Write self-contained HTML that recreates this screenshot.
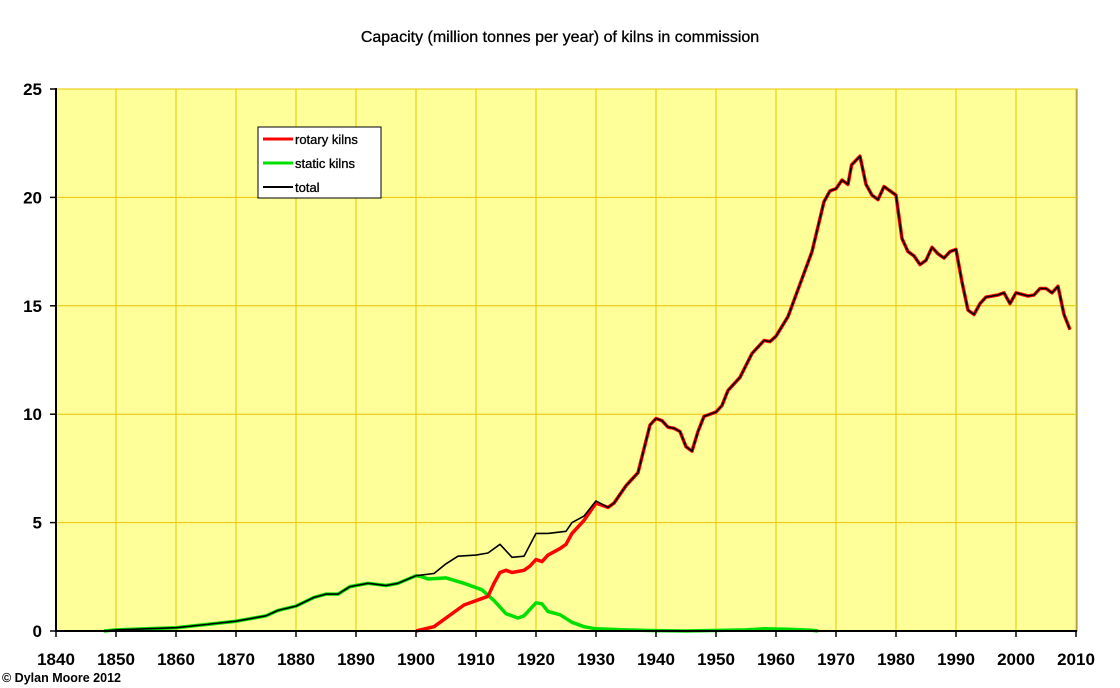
<!DOCTYPE html>
<html><head><meta charset="utf-8"><style>
html,body{margin:0;padding:0;background:#fff;}
svg{display:block;font-family:"Liberation Sans",Arial,sans-serif;}
</style></head><body>
<svg id="c" width="1120" height="688" viewBox="0 0 1120 688" xmlns="http://www.w3.org/2000/svg">
<text x="560" y="42" text-anchor="middle" font-size="16" fill="#000" stroke="#000" stroke-width="0.3">Capacity (million tonnes per year) of kilns in commission</text>
<rect x="56" y="89" width="1021" height="542" fill="#ffff99" stroke="#808080" stroke-width="1"/>
<g id="grid"></g>
<g id="series"></g>
<line x1="56" y1="88" x2="56" y2="632" stroke="#000" stroke-width="2"/>
<line x1="55" y1="631" x2="1077" y2="631" stroke="#000" stroke-width="2"/>
<g id="labels" font-size="17" font-weight="bold" fill="#000"></g>
<rect x="258" y="127" width="123" height="71" fill="#fff" stroke="#000" stroke-width="1"/>
<line x1="263" y1="139" x2="293" y2="139" stroke="#ff0000" stroke-width="3"/>
<text x="295" y="144" font-size="13" stroke="#000" stroke-width="0.3">rotary kilns</text>
<line x1="263" y1="163" x2="293" y2="163" stroke="#00e000" stroke-width="3"/>
<text x="295" y="168" font-size="13" stroke="#000" stroke-width="0.3">static kilns</text>
<line x1="263" y1="187" x2="293" y2="187" stroke="#000" stroke-width="2"/>
<text x="295" y="192" font-size="13" stroke="#000" stroke-width="0.3">total</text>
<text x="2" y="682" font-size="12.5" font-weight="bold">© Dylan Moore 2012</text>
</svg>
<script>
var NS="http://www.w3.org/2000/svg";
function X(y){return 56+(y-1840)*6.0;}
function Y(v){return 631-v*21.68;}
var g=document.getElementById('grid'),L=document.getElementById('labels'),S=document.getElementById('series');
function el(p,t,a){var e=document.createElementNS(NS,t);for(var k in a)e.setAttribute(k,a[k]);p.appendChild(e);return e;}
for(var yr=1850;yr<=2010;yr+=10)el(g,'line',{x1:X(yr),y1:89,x2:X(yr),y2:631,stroke:'#e8c400','stroke-width':1});
for(var v=5;v<=25;v+=5)el(g,'line',{x1:56,y1:Y(v),x2:1077,y2:Y(v),stroke:'#e8c400','stroke-width':1});
for(var yr=1840;yr<=2010;yr+=10){el(L,'line',{x1:X(yr),y1:631,x2:X(yr),y2:637,stroke:'#000','stroke-width':1.5});var t=el(L,'text',{x:X(yr),y:665,'text-anchor':'middle'});t.textContent=yr;}
for(var v=0;v<=25;v+=5){el(L,'line',{x1:50,y1:Y(v),x2:56,y2:Y(v),stroke:'#000','stroke-width':1.5});var t=el(L,'text',{x:42,y:Y(v)+6,'text-anchor':'end'});t.textContent=v;}
var early=[[1848,0],[1850,0.05],[1855,0.1],[1860,0.15],[1865,0.3],[1870,0.45],[1873,0.6],[1875,0.7],[1877,0.95],[1880,1.15],[1883,1.55],[1885,1.7],[1887,1.7],[1889,2.05],[1892,2.2],[1895,2.1],[1897,2.2],[1900,2.55]];
var total=early.concat([[1903,2.65],[1905,3.1],[1907,3.45],[1910,3.5],[1912,3.6],[1914,4.0],[1916,3.4],[1918,3.45],[1920,4.5],[1922,4.5],[1925,4.6],[1926,5.0],[1928,5.3],[1930,6.0]]);
var late=[[1930,6.0],[1932,5.7],[1933,5.9],[1935,6.7],[1937,7.3],[1939,9.5],[1940,9.8],[1941,9.7],[1942,9.4],[1943,9.35],[1944,9.2],[1945,8.5],[1946,8.3],[1947,9.2],[1948,9.9],[1950,10.1],[1951,10.4],[1952,11.1],[1954,11.7],[1956,12.8],[1958,13.4],[1959,13.35],[1960,13.6],[1962,14.5],[1964,16.0],[1966,17.5],[1968,19.8],[1969,20.3],[1970,20.4],[1971,20.8],[1972,20.6],[1972.6,21.5],[1974,21.9],[1975,20.6],[1976,20.1],[1977,19.9],[1978,20.5],[1980,20.1],[1981,18.1],[1982,17.5],[1983,17.3],[1984,16.9],[1985,17.1],[1986,17.7],[1987,17.4],[1988,17.2],[1989,17.5],[1990,17.6],[1991,16.1],[1992,14.8],[1993,14.6],[1994,15.1],[1995,15.4],[1997,15.5],[1998,15.6],[1999,15.1],[2000,15.6],[2002,15.45],[2003,15.5],[2004,15.8],[2005,15.8],[2006,15.6],[2007,15.9],[2008,14.6],[2009,13.9]];
var stat=early.concat([[1901,2.5],[1902,2.4],[1905,2.45],[1908,2.2],[1911,1.9],[1913,1.4],[1915,0.8],[1917,0.6],[1918,0.7],[1920,1.3],[1921,1.25],[1922,0.9],[1924,0.75],[1926,0.4],[1928,0.2],[1930,0.1],[1935,0.05],[1940,0.02],[1945,0],[1955,0.05],[1958,0.1],[1962,0.08],[1966,0.03],[1967,0]]);
var rot=[[1900,0],[1903,0.2],[1905,0.6],[1908,1.2],[1912,1.6],[1913,2.2],[1914,2.7],[1915,2.8],[1916,2.7],[1918,2.8],[1919,3.0],[1920,3.3],[1921,3.2],[1922,3.5],[1924,3.8],[1925,4.0],[1926,4.5],[1928,5.1],[1930,5.9]].concat(late.slice(1));
function pl(d,c,w){el(S,'polyline',{points:d.map(function(p){return X(p[0]).toFixed(1)+','+Y(p[1]).toFixed(1);}).join(' '),fill:'none',stroke:c,'stroke-width':w,'stroke-linejoin':'round'});}
pl(stat,'#00e000',3.5);
pl(rot,'#ff0000',3.5);
pl(total.concat(late.slice(1)),'#000',1.6);
</script>
</body></html>
